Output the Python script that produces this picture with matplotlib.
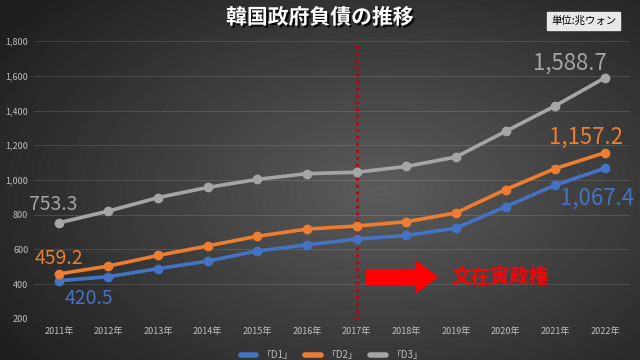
import numpy as np
import matplotlib
matplotlib.use("Agg")
import matplotlib.pyplot as plt
import matplotlib.patheffects as pe
from matplotlib.lines import Line2D
from matplotlib.patches import FancyArrow

plt.rcParams['font.family'] = ['Noto Sans CJK JP', 'DejaVu Sans']

years = ["2011年", "2012年", "2013年", "2014年", "2015年", "2016年",
         "2017年", "2018年", "2019年", "2020年", "2021年", "2022年"]
d1 = [420.5, 443.1, 489.8, 533.2, 591.5, 626.9, 660.2, 680.5, 723.2, 846.6, 970.7, 1067.4]
d2 = [459.2, 504.6, 565.6, 620.6, 676.2, 717.5, 735.2, 759.7, 810.7, 945.1, 1066.2, 1157.2]
d3 = [753.3, 821.1, 898.7, 957.3, 1003.5, 1036.6, 1044.6, 1078.0, 1132.6, 1280.0, 1427.3, 1588.7]
series_names = ["「D1」", "「D2」", "「D3」"]
colors = ["#4472C4", "#ED7D31", "#A5A5A5"]
yticks = [200, 400, 600, 800, 1000, 1200, 1400, 1600, 1800]

fig = plt.figure(figsize=(6.4, 3.6), dpi=100)

# radial dark background
bg = fig.add_axes([0, 0, 1, 1])
yy, xx = np.mgrid[0:360, 0:640]
r = np.sqrt(((xx - 380) / 420.0) ** 2 + ((yy - 190) / 260.0) ** 2)
shade = np.clip(0.36 - 0.22 * r, 0.12, 0.36)
bg.imshow(shade, cmap="gray", vmin=0, vmax=1, aspect="auto")
bg.axis("off")

ax = fig.add_axes([0.053, 0.114, 0.931, 0.772])
ax.set_facecolor("none")
x = np.arange(len(years))

for vals, name, c in zip([d1, d2, d3], series_names, colors):
    ax.plot(x, vals, color=c, lw=2.6, marker="o", ms=6, label=name,
            solid_capstyle="round", zorder=3)

ax.set_xlim(-0.5, len(years) - 0.5)
ax.set_ylim(200, 1800)
ax.set_yticks(yticks)
ax.set_yticklabels([f"{v:,}" for v in yticks])
ax.set_xticks(x)
ax.set_xticklabels(years)
ax.tick_params(colors="#bfbfbf", labelsize=6.5, length=0, pad=6)
ax.tick_params(axis="y", pad=4)
ax.grid(axis="y", color="white", alpha=0.13, lw=0.7)
for s in ax.spines.values():
    s.set_visible(False)

# data labels
left = dict(fontsize=14, ha="center", va="center")
right = dict(fontsize=16, ha="center", va="center")
ax.text(-0.12, d3[0] + 103, "753.3", color=colors[2], **left)
ax.text(0.0, d2[0] + 86, "459.2", color=colors[1], **left)
ax.text(0.6, d1[0] - 105, "420.5", color=colors[0], **left)
ax.text(10.3, d3[-1] + 85, "1,588.7", color=colors[2], **right)
ax.text(10.62, d2[-1] + 90, "1,157.2", color=colors[1], **right)
ax.text(10.85, d1[-1] - 171, "1,067.4", color=colors[0], **right)

# 2017 marker line and arrow
ax.axvline(6, color="#c00000", lw=2, ls=(0, (1, 1.5)), zorder=2)
ax.add_patch(FancyArrow(6.2, 442, 1.0, 0, width=85, head_width=180,
                        head_length=0.42, length_includes_head=False,
                        color="#ff0000", zorder=4))
ax.text(7.9, 442, "文在寅政権", color="#ff0000", fontsize=14,
        fontweight="bold", ha="left", va="center")

leg = ax.legend(handles=[Line2D([0], [0], color=c, lw=4, solid_capstyle="round")
                         for c in colors],
                labels=series_names, loc="upper center", bbox_to_anchor=(0.5, -0.08),
                ncol=3, frameon=False, fontsize=7, labelcolor="#bfbfbf",
                handlelength=1.6, columnspacing=1.2, handletextpad=0.6)

fig.text(0.5, 0.952, "韓国政府負債の推移", color="white", fontsize=15,
         fontweight="bold", ha="center", va="center",
         path_effects=[pe.withSimplePatchShadow(offset=(1.5, -1.5), shadow_rgbFace="black", alpha=0.8)])
fig.text(0.912, 0.942, "単位:兆ウォン", color="black", fontsize=7.5,
         ha="center", va="center",
         bbox=dict(boxstyle="square,pad=0.35", fc="#e8e8e8", ec="#e8e8e8"))

fig.savefig("out.png", dpi=100)
